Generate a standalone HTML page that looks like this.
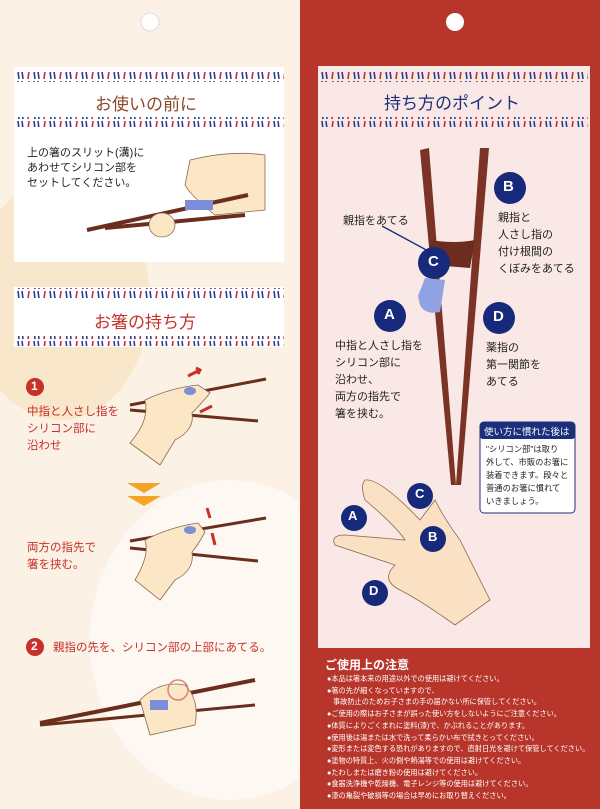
<!DOCTYPE html>
<html><head><meta charset="utf-8"><style>
*{margin:0;padding:0;box-sizing:border-box}
body{width:600px;height:809px;position:relative;overflow:hidden;background:#fbf3e8;font-family:"Liberation Sans","Noto Sans CJK JP",sans-serif}
.t{position:absolute;white-space:nowrap}
</style></head><body>
<svg width="600" height="809" style="position:absolute;left:0;top:0">
<defs>
<pattern id="st" x="0" y="0" width="16" height="10" patternUnits="userSpaceOnUse">
<line x1="2" y1="1" x2="3" y2="9" stroke="#2b3b8f" stroke-width="1.6"/>
<line x1="6" y1="1" x2="7" y2="9" stroke="#2b3b8f" stroke-width="1.6"/>
<line x1="12" y1="9" x2="13" y2="1" stroke="#c8302a" stroke-width="1.6"/>
</pattern>
</defs>
<rect x="0" y="0" width="300" height="809" fill="#fbf1e4"/>
<ellipse cx="60" cy="300" rx="90" ry="120" fill="#f6e3bf" opacity=".7"/>
<ellipse cx="230" cy="640" rx="140" ry="160" fill="#fdf8f1"/>
<rect x="14" y="67" width="270" height="195" fill="#fff"/>
<rect x="14" y="287" width="270" height="60" fill="#fff"/>
<rect x="14" y="72" width="270" height="10" fill="url(#st)"/>
<rect x="14" y="117" width="270" height="10" fill="url(#st)"/>
<rect x="14" y="288" width="270" height="10" fill="url(#st)"/>
<rect x="14" y="336" width="270" height="10" fill="url(#st)"/>
<circle cx="150" cy="22" r="9" fill="#fff" stroke="#ddd"/>
<rect x="300" y="0" width="300" height="809" fill="#b7352a"/>
<rect x="318" y="66" width="272" height="582" fill="#fae8e6"/>
<rect x="320" y="72" width="268" height="10" fill="url(#st)"/>
<rect x="320" y="117" width="268" height="10" fill="url(#st)"/>
<circle cx="455" cy="22" r="9" fill="#fff"/>
<path d="M190 160 Q230 150 265 155 L265 210 L215 215 Q190 195 185 185 Z" fill="#fbe6c6" stroke="#8a6a50" stroke-width=".8"/>
<line x1="87" y1="230" x2="248" y2="195" stroke="#6b2e1e" stroke-width="4"/>
<line x1="105" y1="228" x2="245" y2="215" stroke="#6b2e1e" stroke-width="4"/>
<rect x="185" y="200" width="28" height="10" fill="#7c8ed8"/>
<ellipse cx="162" cy="225" rx="13" ry="12" fill="#fbe6c6" stroke="#8a6a50" stroke-width=".8"/>
<line x1="130" y1="405" x2="266" y2="379" stroke="#6b2e1e" stroke-width="3"/>
<line x1="130" y1="410" x2="258" y2="421" stroke="#6b2e1e" stroke-width="3"/>
<path d="M130 443 Q150 420 145 400 Q170 388 198 385 L210 393 Q200 405 192 413 Q195 430 175 440 L160 465 Z" fill="#fbe6c6" stroke="#8a6a50" stroke-width=".8"/>
<ellipse cx="190" cy="391" rx="6" ry="4" fill="#7c8ed8"/>
<path d="M188 376 l12 -6 m-4 -2 l4 2 l-2 4" stroke="#c8302a" stroke-width="3" fill="none"/>
<path d="M200 412 l12 -6" stroke="#c8302a" stroke-width="3"/>
<path d="M127 483 h34 l-17 10z M127 496 h34 l-17 10z" fill="#f4a326"/>
<line x1="130" y1="541" x2="266" y2="518" stroke="#6b2e1e" stroke-width="3"/>
<line x1="130" y1="548" x2="258" y2="561" stroke="#6b2e1e" stroke-width="3"/>
<path d="M135 580 Q150 555 145 540 Q170 527 198 523 L205 532 Q198 545 192 552 Q195 570 175 580 L160 600 Z" fill="#fbe6c6" stroke="#8a6a50" stroke-width=".8"/>
<ellipse cx="190" cy="530" rx="6" ry="4" fill="#7c8ed8"/>
<path d="M207 508 l3 10 M215 545 l-3 -12" stroke="#c8302a" stroke-width="3"/>
<line x1="40" y1="723" x2="255" y2="680" stroke="#6b2e1e" stroke-width="4"/>
<line x1="40" y1="725" x2="255" y2="705" stroke="#6b2e1e" stroke-width="3"/>
<path d="M140 700 Q160 680 185 685 Q200 700 195 725 L150 735 Z" fill="#fbe6c6" stroke="#8a6a50" stroke-width=".8"/>
<rect x="150" y="700" width="18" height="10" fill="#7c8ed8"/>
<circle cx="178" cy="690" r="10" fill="none" stroke="#e08070" stroke-width="1.5"/>
<circle cx="35" cy="387" r="9" fill="#c8302a"/>
<circle cx="35" cy="647" r="9" fill="#c8302a"/>
<path d="M420 150 L429 148 L456 485 L451 485 Z" fill="#7a3324"/>
<path d="M480 148 L489 148 L461 485 L456 485 Z" fill="#7a3324"/>
<path d="M430 240 Q455 244 475 240 L470 268 L432 265Z" fill="#6d2c20"/>
<path d="M425 278 L445 280 L440 312 Q425 315 420 305 L418 296Z" fill="#8fa3e2"/>
<line x1="382" y1="226" x2="430" y2="252" stroke="#1b2f7a" stroke-width="1.3"/>
<path d="M365 480 Q380 478 420 520 L435 500 Q445 520 460 540 Q480 580 490 600 L455 625 Q420 600 400 590 Q380 580 395 565 L335 545 Q330 535 345 535 L405 540 Q395 525 365 500 Q360 485 365 480Z" fill="#fbe1c4" stroke="#8a6a50" stroke-width=".8"/>
<rect x="480" y="422" width="95" height="91" rx="4" fill="#fff" stroke="#1b2f7a"/>
<rect x="480" y="422" width="95" height="17" rx="3" fill="#1b2f7a"/>
<g fill="#16297a">
<circle cx="510" cy="188" r="16"/><circle cx="434" cy="263" r="16"/><circle cx="390" cy="316" r="16"/><circle cx="499" cy="318" r="16"/>
<circle cx="354" cy="518" r="13"/><circle cx="420" cy="496" r="13"/><circle cx="433" cy="539" r="13"/><circle cx="375" cy="593" r="13"/>
</g>
</svg>
<div class="t" style="left:95px;top:90px;font-size:17px;color:#8a4a2a">お使いの前に</div>
<div class="t" style="left:27px;top:146px;font-size:11px;line-height:15px;color:#222">上の箸のスリット(溝)に<br>あわせてシリコン部を<br>セットしてください。</div>
<div class="t" style="left:94px;top:308px;font-size:17px;color:#c8302a">お箸の持ち方</div>
<div class="t" style="left:31px;top:379px;font-size:12px;color:#fff;font-weight:bold">1</div>
<div class="t" style="left:27px;top:404px;font-size:11.5px;line-height:17px;color:#c8302a">中指と人さし指を<br>シリコン部に<br>沿わせ</div>
<div class="t" style="left:27px;top:540px;font-size:11.5px;line-height:17px;color:#c8302a">両方の指先で<br>箸を挟む。</div>
<div class="t" style="left:31px;top:639px;font-size:12px;color:#fff;font-weight:bold">2</div>
<div class="t" style="left:53px;top:639px;font-size:11.5px;color:#c8302a">親指の先を、シリコン部の上部にあてる。</div>
<div class="t" style="left:384px;top:89px;font-size:17px;color:#1b2f7a">持ち方のポイント</div>
<div class="t" style="left:343px;top:212px;font-size:11px;color:#222">親指をあてる</div>
<div class="t" style="left:498px;top:210px;font-size:11px;line-height:17px;color:#222">親指と<br>人さし指の<br>付け根間の<br>くぼみをあてる</div>
<div class="t" style="left:335px;top:338px;font-size:11px;line-height:17px;color:#222">中指と人さし指を<br>シリコン部に<br>沿わせ、<br>両方の指先で<br>箸を挟む。</div>
<div class="t" style="left:486px;top:340px;font-size:11px;line-height:17px;color:#222">薬指の<br>第一関節を<br>あてる</div>
<div class="t" style="left:484px;top:424px;font-size:9.5px;color:#fff">使い方に慣れた後は</div>
<div class="t" style="left:486px;top:443px;font-size:8.3px;line-height:13px;color:#222">"シリコン部"は取り<br>外して、市販のお箸に<br>装着できます。段々と<br>普通のお箸に慣れて<br>いきましょう。</div>
<div style="position:absolute;color:#fff;font-weight:bold;font-size:15px;left:0;top:0">
<span class="t" style="left:503px;top:178px">B</span><span class="t" style="left:428px;top:253px">C</span><span class="t" style="left:384px;top:306px">A</span><span class="t" style="left:493px;top:308px">D</span>
<span class="t" style="left:348px;top:508px;font-size:13px">A</span><span class="t" style="left:415px;top:486px;font-size:13px">C</span><span class="t" style="left:428px;top:529px;font-size:13px">B</span><span class="t" style="left:369px;top:583px;font-size:13px">D</span></div>
<div class="t" style="left:325px;top:656px;font-size:12px;font-weight:bold;color:#fff">ご使用上の注意</div>
<div class="t" style="left:327px;top:673px;font-size:7.2px;line-height:11.7px;color:#fff">●本品は箸本来の用途以外での使用は避けてください。<br>●箸の先が細くなっていますので、<br>&nbsp;&nbsp;&nbsp;事故防止のためお子さまの手の届かない所に保管してください。<br>●ご使用の際はお子さまが誤った使い方をしないようにご注意ください。<br>●体質によりごくまれに塗料(漆)で、かぶれることがあります。<br>●使用後は湯または水で洗って柔らかい布で拭きとってください。<br>●変形または変色する恐れがありますので、直射日光を避けて保管してください。<br>●塗物の特質上、火の側や熱湯等での使用は避けてください。<br>●たわしまたは磨き粉の使用は避けてください。<br>●食器洗浄機や乾燥機、電子レンジ等の使用は避けてください。<br>●漆の亀裂や破損等の場合は早めにお取り替えください。</div>
</body></html>
